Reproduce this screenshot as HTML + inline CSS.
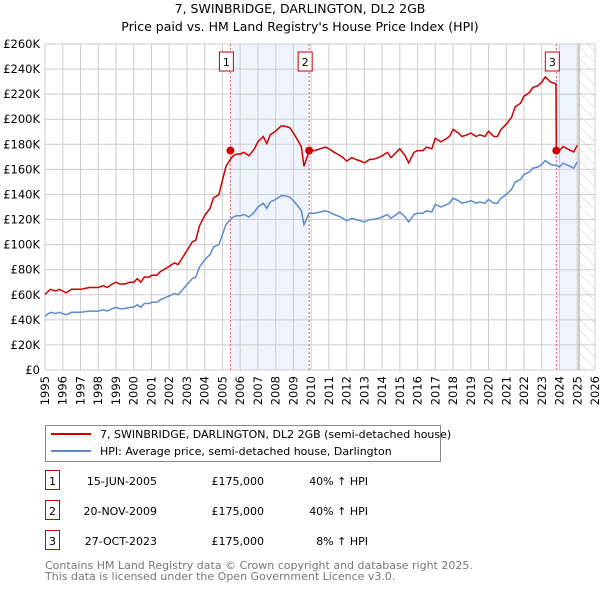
<!DOCTYPE html>
<html><head><meta charset="utf-8"><style>
body{margin:0;background:#fff;font-family:"DejaVu Sans","Liberation Sans",sans-serif;}
svg text{font-family:"DejaVu Sans","Liberation Sans",sans-serif;}
</style></head><body>
<svg id="c" width="600" height="590" xmlns="http://www.w3.org/2000/svg">
<defs><pattern id="hatch" width="8" height="8" patternUnits="userSpaceOnUse" patternTransform="rotate(-45)"><line x1="0" y1="0" x2="0" y2="8" stroke="#ccc" stroke-width="1"/></pattern></defs>
<text x="300" y="13" text-anchor="middle" font-size="12.5" fill="#000">7, SWINBRIDGE, DARLINGTON, DL2 2GB</text>
<text x="300" y="31" text-anchor="middle" font-size="12.5" fill="#000">Price paid vs. HM Land Registry's House Price Index (HPI)</text>
<g id="plot"></g>
<g>
<rect x="45.5" y="425.5" width="395" height="36" fill="#fff" stroke="#888"/>
<line x1="51" y1="434" x2="91" y2="434" stroke="#cc0000" stroke-width="2"/>
<text x="100" y="438" font-size="11">7, SWINBRIDGE, DARLINGTON, DL2 2GB (semi-detached house)</text>
<line x1="51" y1="451" x2="91" y2="451" stroke="#5b8bd0" stroke-width="2"/>
<text x="100" y="455" font-size="11">HPI: Average price, semi-detached house, Darlington</text>
</g>
<g id="table" font-size="11"></g>
<text x="45" y="569" font-size="11" fill="#777">Contains HM Land Registry data © Crown copyright and database right 2025.</text>
<text x="45" y="580" font-size="11" fill="#777">This data is licensed under the Open Government Licence v3.0.</text>
</svg>
<script>
const hpiYears=[1995,1995.3,1995.6,1995.8,1996,1996.2,1996.5,1996.8,1997,1997.5,1998,1998.3,1998.5,1998.8,1999,1999.2,1999.5,1999.8,2000,2000.2,2000.4,2000.6,2000.9,2001,2001.3,2001.5,2002,2002.3,2002.5,2003,2003.3,2003.5,2003.7,2004,2004.3,2004.5,2004.8,2005,2005.2,2005.45,2005.6,2005.8,2006,2006.2,2006.5,2006.8,2007,2007.3,2007.5,2007.7,2008,2008.3,2008.5,2008.8,2009,2009.3,2009.45,2009.6,2009.89,2010.2,2010.5,2010.8,2011,2011.3,2011.5,2011.8,2012,2012.3,2012.5,2012.8,2013,2013.3,2013.5,2013.8,2014,2014.3,2014.5,2014.8,2015,2015.3,2015.5,2015.8,2016,2016.3,2016.5,2016.8,2017,2017.3,2017.5,2017.8,2018,2018.3,2018.5,2018.8,2019,2019.3,2019.5,2019.8,2020,2020.3,2020.5,2020.7,2021,2021.3,2021.5,2021.8,2022,2022.3,2022.5,2022.8,2023,2023.2,2023.5,2023.82,2024,2024.2,2024.5,2024.8,2025];
const hpiValues=[43,46,45,46,45,44,46,46,46,47,47,48,47,49,50,49,49,50,50,52,50,53,53,54,54,56,59,61,60,68,73,74,82,88,92,98,100,108,116,120,122,123,123,124,122,126,130,133,129,134,136,139,139,138,135,130,127,116,125,125,126,127,126,124,123,121,119,121,120,119,118,120,120,121,122,124,121,124,126,122,118,124,125,125,127,126,132,130,131,133,137,135,133,134,135,133,134,133,136,133,133,137,140,144,150,152,156,158,161,162,164,167,164,163,162,165,163,161,166,170];
const saleDates=[2005.45,2009.89,2023.82];
const salePrices=[175,175,175];
const saleLabels=["15-JUN-2005","20-NOV-2009","27-OCT-2023"];
const salePriceText=["£175,000","£175,000","£175,000"];
const saleHpiText=["40% ↑ HPI","40% ↑ HPI","8% ↑ HPI"];
const yTicks=[0,20,40,60,80,100,120,140,160,180,200,220,240,260];
const yTickLabels=["£0","£20K","£40K","£60K","£80K","£100K","£120K","£140K","£160K","£180K","£200K","£220K","£240K","£260K"];
const xTicks=[1995,1996,1997,1998,1999,2000,2001,2002,2003,2004,2005,2006,2007,2008,2009,2010,2011,2012,2013,2014,2015,2016,2017,2018,2019,2020,2021,2022,2023,2024,2025,2026];
const premiumPct=[40,40,8];
const dataEnd=2025.1;

const NS="http://www.w3.org/2000/svg";
const X0=45,X1=595,Y0=370,Y1=44;
const xs=v=>X0+(v-1995)/(2026-1995)*(X1-X0);
const ys=v=>Y0-v/260*(Y0-Y1);
function mk(tag,at,parent){const e=document.createElementNS(NS,tag);for(const k in at)e.setAttribute(k,at[k]);parent.appendChild(e);return e;}
const g=document.getElementById('plot');
function hpiAt(t){for(let i=1;i<hpiYears.length;i++){if(t<=hpiYears[i]){const a=hpiYears[i-1],b=hpiYears[i];return hpiValues[i-1]+(hpiValues[i]-hpiValues[i-1])*(t-a)/(b-a);}}return hpiValues[hpiValues.length-1];}

let r=mk('rect',{x:xs(saleDates[0]),y:Y1,width:xs(saleDates[1])-xs(saleDates[0]),height:Y0-Y1,fill:'#eef3fc'},g);


r=mk('rect',{x:xs(saleDates[2]),y:Y1,width:xs(2025)-xs(saleDates[2]),height:Y0-Y1,fill:'#eef3fc'},g);


r=mk('rect',{x:xs(dataEnd),y:Y1,width:X1-xs(dataEnd),height:Y0-Y1,fill:'url(#hatch)'},g);



yTicks.forEach((v,i)=>{
 const l=mk('line',{x1:X0,x2:X1,y1:ys(v),y2:ys(v),stroke:'#ccc','stroke-width':1},g);
 
 
 const t=mk('text',{x:40,y:ys(v)+4,'text-anchor':'end','font-size':11.5},g);
 t.textContent=yTickLabels[i];
 
 
});
xTicks.forEach(v=>{
 const l=mk('line',{x1:xs(v),x2:xs(v),y1:Y1,y2:Y0,stroke:'#ccc','stroke-width':1},g);
 
 
 const t=mk('text',{x:0,y:0,'text-anchor':'end','font-size':11.5,transform:`translate(${xs(v)+4},${Y0+6}) rotate(-90)`},g);
 t.textContent=v;
 
 
});
const vl=mk('line',{x1:xs(dataEnd),x2:xs(dataEnd),y1:Y1,y2:Y0,stroke:'#999','stroke-width':1},g);



saleDates.forEach((d,i)=>{
 const l=mk('line',{x1:xs(d),x2:xs(d),y1:Y1,y2:Y0,stroke:'#e06060','stroke-width':1,'stroke-dasharray':'2,2'},g);
 
 
 const b=mk('rect',{x:xs(d)-11,y:52,width:14,height:19,fill:'#fff',stroke:'#cc0000'},g);
 
 
 const t=mk('text',{x:xs(d)-4,y:66,'text-anchor':'middle','font-size':11},g);
 t.textContent=i+1;
 
 
});

let p=hpiYears.map((t,i)=>(i?'L':'M')+xs(t).toFixed(1)+','+ys(hpiValues[i]).toFixed(1)).join('');
const hl=mk('path',{d:p,fill:'none',stroke:'#5b8bd0','stroke-width':1.5},g);



let pts=[];
const b0=1+premiumPct[0]/100;
const b2=1+premiumPct[2]/100;
hpiYears.forEach((t,i)=>{
 if(t<saleDates[2]-0.001){pts.push([t,hpiValues[i]*b0]);}
 else{
  if(hpiYears[i-1]<saleDates[2]-0.001){pts.push([saleDates[2]-0.02,hpiAt(saleDates[2])*b0]);pts.push([saleDates[2],salePrices[2]]);}
  pts.push([t,hpiValues[i]*b2]);
 }
});
p=pts.map((q,i)=>(i?'L':'M')+xs(q[0]).toFixed(1)+','+ys(q[1]).toFixed(1)).join('');
const pl=mk('path',{d:p,fill:'none',stroke:'#cc0000','stroke-width':1.5},g);



saleDates.forEach((d,i)=>{
 const c=mk('circle',{cx:xs(d),cy:ys(salePrices[i]),r:4,fill:'#cc0000'},g);
 
 
});

const tb=document.getElementById('table');
saleLabels.forEach((s,i)=>{
 const y=483+i*30;
 const b=mk('rect',{x:45.5,y:y-12.5,width:14,height:19,fill:'#fff',stroke:'#cc0000'},tb);
 
 
 let t=mk('text',{x:52.5,y:y+2,'text-anchor':'middle'},tb);t.textContent=i+1;
 
 
 t=mk('text',{x:157,y:y+2,'text-anchor':'end'},tb);t.textContent=s;
 
 
 t=mk('text',{x:264,y:y+2,'text-anchor':'end'},tb);t.textContent=salePriceText[i];
 
 
 t=mk('text',{x:368,y:y+2,'text-anchor':'end'},tb);t.textContent=saleHpiText[i];
 
 
});
</script>
</body></html>
